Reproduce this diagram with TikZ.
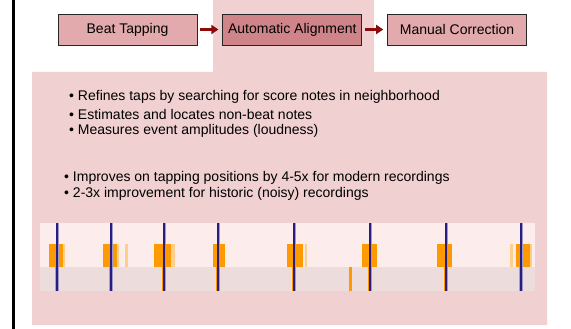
\documentclass[tikz,border=0pt]{standalone}
\usepackage{fontspec}
\setmainfont{Liberation Sans}
\usetikzlibrary{positioning,arrows.meta}

\definecolor{bgpink}{RGB}{240,208,208}
\definecolor{boxpink}{RGB}{226,170,172}
\definecolor{boxdark}{RGB}{206,132,136}
\definecolor{darkred}{RGB}{140,10,10}
\definecolor{stripup}{RGB}{253,236,236}
\definecolor{stripdown}{RGB}{236,220,220}
\definecolor{onsetorange}{RGB}{255,153,0}
\definecolor{fadeorange}{RGB}{255,205,140}
\definecolor{beatblue}{RGB}{40,30,130}

\begin{document}
\begin{tikzpicture}[x=1pt,y=-1pt,
    stagebox/.style={draw=black!85, line width=0.8pt, fill=boxpink,
      minimum width=139pt, minimum height=31pt, inner sep=0pt,
      font=\fontsize{14}{16}\selectfont},
    flowarrow/.style={-{Triangle[length=7pt,width=9pt]}, line width=3pt,
      darkred, shorten <=3pt, shorten >=4pt},
    bullettext/.style={anchor=west, inner sep=0pt,
      font=\fontsize{14}{16}\selectfont}]
      \useasboundingbox (0,0) rectangle (571,329);

      % BACKGROUND
      \fill[bgpink] (213,0) -- (374,0) -- (374,72) -- (547,72)
        -- (547,325) -- (32,325) -- (32,72) -- (213,72) -- cycle;
      \draw[line width=3pt] (13,0) -- (13,329);

      % STAGES
      \node[stagebox] (tap) at (127.5,29.5) {Beat Tapping};
      \node[stagebox, fill=boxdark, right=25pt of tap] (align) {Automatic Alignment};
      \node[stagebox, right=25pt of align] (fix) {Manual Correction};

      % ARROWS
      \draw[flowarrow] (tap) -- (align);
      \draw[flowarrow] (align) -- (fix);

      % NOTES
      \node[bullettext] (n1) at (69,97)  {• Refines taps by searching for score notes in neighborhood};
      \node[bullettext] (n2) at (69,114) {• Estimates and locates non-beat notes};
      \node[bullettext] (n3) at (69,131) {• Measures event amplitudes (loudness)};
      \node[bullettext] (n4) at (64,178) {• Improves on tapping positions by 4-5x for modern recordings};
      \node[bullettext] (n5) at (64,194) {• 2-3x improvement for historic (noisy) recordings};

      % ALIGNMENT STRIP
      \fill[stripup] (40,223) rectangle (535,267);
      \fill[stripdown] (40,267) rectangle (535,291);
      \foreach \a/\b in {63/65, 117/119, 171/175, 125/128, 305/307, 510/513, 530/532}
        \fill[fadeorange] (\a,244) rectangle (\b,267);
      \foreach \a/\b in {49/63, 103/117, 154/171, 213/225, 287/303, 362/377, 437/452, 516/530}
        \fill[onsetorange] (\a,244) rectangle (\b,267);
      \fill[onsetorange] (349,267) rectangle (352,291);
      \foreach \x in {57, 111, 164, 218, 294, 370, 446, 521}
        {
        \fill[onsetorange] (\x-2.5,267) rectangle (\x+1.5,291);
        \draw[beatblue!45, line width=3pt] (\x,223) -- (\x,291);
        \draw[beatblue, line width=1.6pt] (\x,223) -- (\x,291);
        }
\end{tikzpicture}
\end{document}
